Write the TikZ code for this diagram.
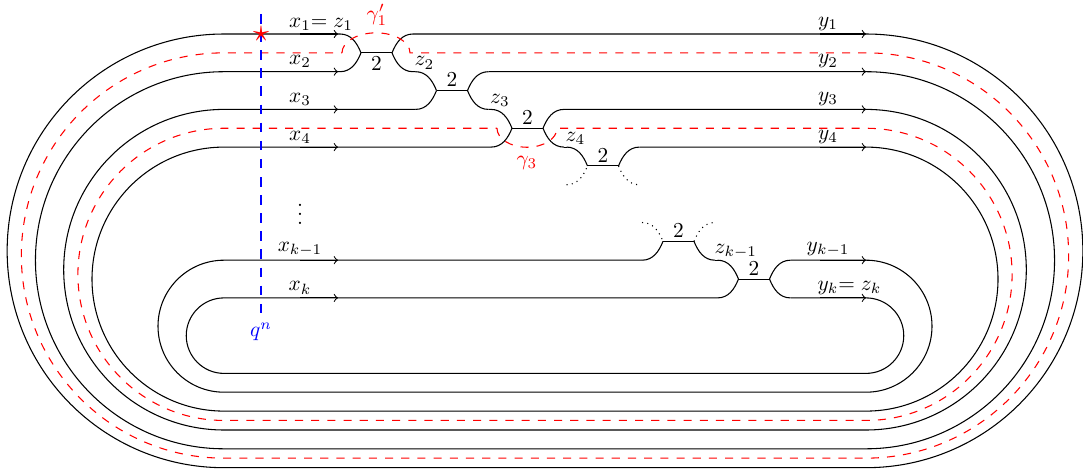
\documentclass[tikz,border=0pt]{standalone}
\usepackage{amsmath}
\usepackage{amssymb}
\usepackage{mathtools}
\usepackage{xcolor}
\usetikzlibrary{calc}

\begin{document}
\begin{tikzpicture}[x=0.0165cm, y=0.0165cm, >=to, line width=0.5pt,
    gam/.style={red, dash pattern=on 3.8pt off 3.8pt},
    cutline/.style={blue, dash pattern=on 4.5pt off 4pt},
    lab/.style={inner sep=1.5pt}]
  \useasboundingbox (0,0) rectangle (1083,-471);

  % bars and their end points
  \foreach \j/\xl/\yb in {1/361/52.85, 2/436.5/90.55, 3/512/128.25,
                          4/587.5/165.95, 5/663/241.35, 6/738.5/279.05} {
    \coordinate (bl\j) at (\xl,-\yb);
    \coordinate (br\j) at (\xl+31,-\yb);
    \coordinate (ul\j) at (\xl-21,-\yb+18.85);
    \coordinate (ll\j) at (\xl-21,-\yb-18.85);
    \coordinate (ur\j) at (\xl+52,-\yb+18.85);
    \coordinate (lr\j) at (\xl+52,-\yb-18.85);
    \draw (bl\j) -- (br\j);
  }

  % strands into and out of the bars
  \foreach \j/\sa/\sb/\sc/\sd in {1/solid/solid/solid/solid, 2/solid/solid/solid/solid,
      3/solid/solid/solid/solid, 4/solid/dotted/solid/dotted,
      5/dotted/solid/dotted/solid, 6/solid/solid/solid/solid} {
    \draw[\sa] (ul\j) to[out=0, in=112] (bl\j);
    \draw[\sb] (ll\j) to[out=0, in=-112] (bl\j);
    \draw[\sc] (br\j) to[out=68, in=180] (ur\j);
    \draw[\sd] (br\j) to[out=-68, in=180] (lr\j);
  }
  \foreach \j/\n in {1/2, 2/3, 3/4, 5/6}
    \draw (lr\j) -- (ul\n);

  % the loops
  \foreach \s/\e/\yt/\rr in {ur1/ul1/34/216.85, ur2/ll1/71.7/188.55,
      ur3/ll2/109.4/160.3, ur4/ll3/147.1/132, ur6/ll5/260.2/66, lr6/ll6/297.9/37.75} {
    \draw (\s) -- (866,-\yt) arc[start angle=90, end angle=-90, radius=\rr]
      -- (224,-\yt-2*\rr) arc[start angle=270, end angle=90, radius=\rr] -- (\e);
    \draw[->] (300,-\yt) -- (338,-\yt);
    \draw[->] (820,-\yt) -- (866,-\yt);
  }

  % gamma curves
  \draw[gam] (342,-52.85) arc[start angle=180, end angle=0, x radius=34, y radius=20]
    -- (866,-52.85) arc[start angle=90, end angle=-90, radius=202.65]
    -- (224,-458.15) arc[start angle=270, end angle=90, radius=202.65] -- cycle;
  \draw[gam] (497,-128.25) arc[start angle=180, end angle=360, x radius=30, y radius=19]
    -- (866,-128.25) arc[start angle=90, end angle=-90, radius=146.1]
    -- (224,-420.45) arc[start angle=270, end angle=90, radius=146.1] -- cycle;

  % labels
  \node[lab, above] (x1) at (300,-34) {$x_1\mathrlap{= z_1}$};
  \node[lab, above] (x2) at (300,-71.7) {$x_2$};
  \node[lab, above] (x3) at (300,-109.4) {$x_3$};
  \node[lab, above] (x4) at (300,-147.1) {$x_4$};
  \node[lab, above] (xk1) at (300,-260.2) {$x_{k-1}$};
  \node[lab, above] (xk) at (300,-297.9) {$x_k$};
  \node (dots) at (300,-208) {$\vdots$};

  \node[lab, above] (y1) at (828,-34) {$y_1$};
  \node[lab, above] (y2) at (828,-71.7) {$y_2$};
  \node[lab, above] (y3) at (828,-109.4) {$y_3$};
  \node[lab, above] (y4) at (828,-147.1) {$y_4$};
  \node[lab, above] (yk1) at (828,-260.2) {$y_{k-1}$};
  \node[lab, above] (yk) at (828,-297.9) {$y_k\mathrlap{= z_k}$};

  \node[lab, anchor=west] (z2) at ($(br1)+(19,-10)$) {$z_2$};
  \node[lab, anchor=west] (z3) at ($(br2)+(19,-10)$) {$z_3$};
  \node[lab, anchor=west] (z4) at ($(br3)+(19,-10)$) {$z_4$};
  \node[lab, anchor=west] (zk1) at ($(br5)+(17,-10)$) {$z_{k-1}$};

  \node[lab, below] (two1) at ($(bl1)!0.5!(br1)$) {$2$};
  \foreach \j in {2,...,6}
    \node[lab, above] (two\j) at ($(bl\j)!0.5!(br\j)$) {$2$};

  \node[red] (g1) at (377,-15) {$\gamma_1'$};
  \node[red] (g3) at (527,-163) {$\gamma_3$};

  % the cut
  \coordinate (ctop) at (261,-14);
  \node[blue, below, inner sep=2pt] (qn) at (261,-318) {$q^n$};
  \draw[cutline] (ctop) -- (qn.north);
  \node[red, inner sep=0pt, scale=1.5] (star) at (261,-34) {$\star$};
\end{tikzpicture}
\end{document}
